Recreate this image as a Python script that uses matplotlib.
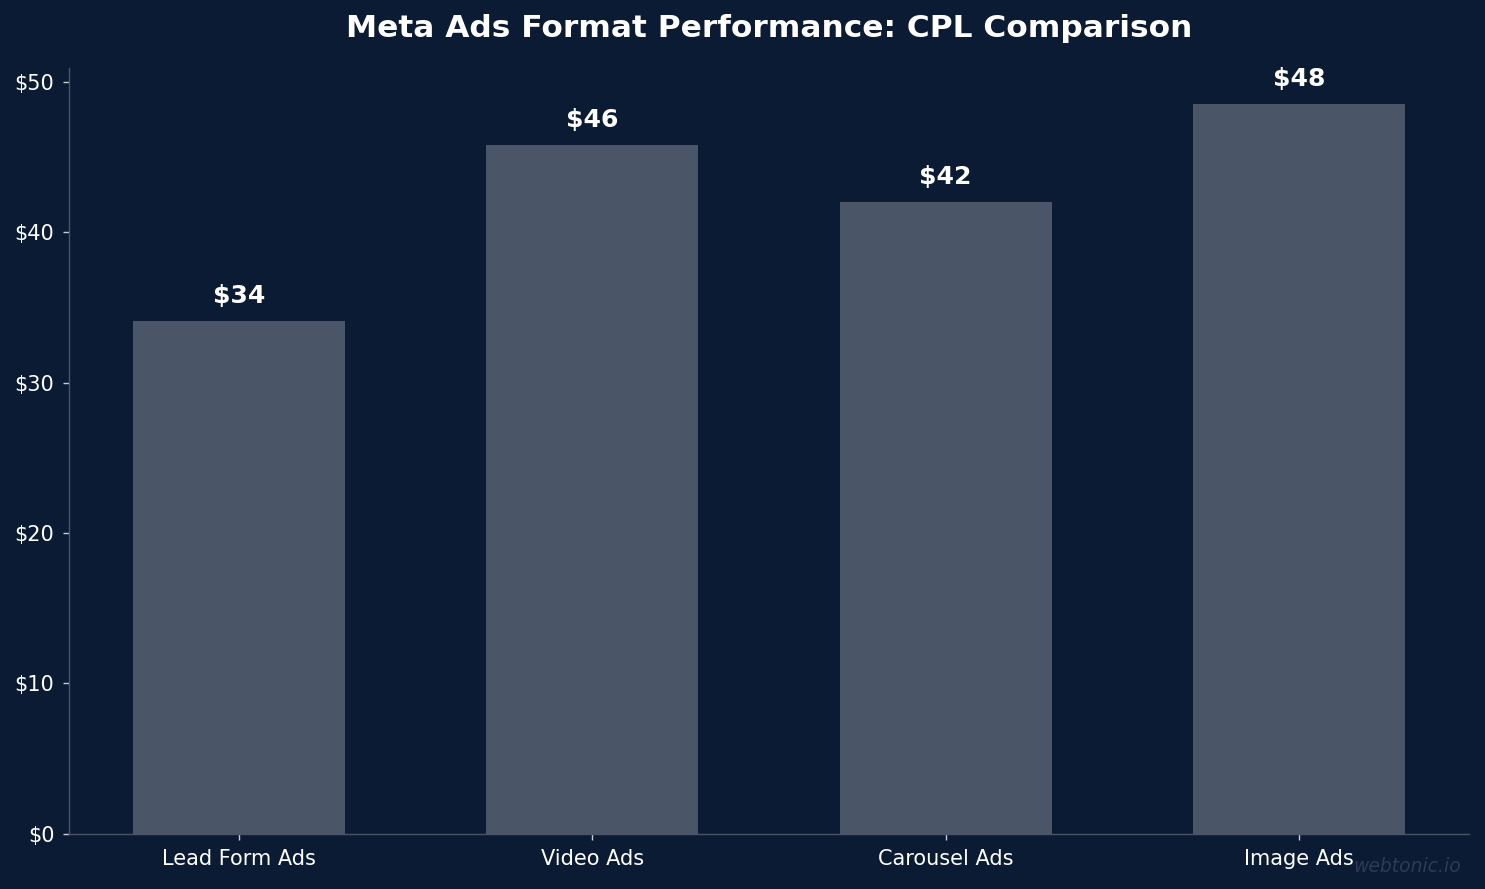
import matplotlib
matplotlib.use('Agg')
import matplotlib.pyplot as plt

plt.rcParams['font.family'] = ['DejaVu Sans']

formats = ['Lead Form Ads', 'Video Ads', 'Carousel Ads', 'Image Ads']
cpl = [34.1, 45.8, 42.0, 48.5]
labels = ['$34', '$46', '$42', '$48']

bg = '#0b1b34'
bar_color = '#4a5568'

fig, ax = plt.subplots(figsize=(11.88, 7.112), dpi=125)
fig.patch.set_facecolor(bg)
ax.set_facecolor(bg)

bars = ax.bar(formats, cpl, width=0.6, color=bar_color)

for b, lab in zip(bars, labels):
    ax.text(b.get_x() + b.get_width() / 2, b.get_height() + 0.9, lab,
            ha='center', va='bottom', color='white', fontsize=14.5, fontweight='bold')

ax.set_title('Meta Ads Format Performance: CPL Comparison', color='white',
             fontsize=18, fontweight='bold', pad=18)
ax.yaxis.set_major_formatter(matplotlib.ticker.FuncFormatter(lambda v, p: f'${v:.0f}'))
ax.tick_params(colors='white', labelsize=12, pad=5)
ax.tick_params(axis='both', color='#c8ccd4')
for s in ['top', 'right']:
    ax.spines[s].set_visible(False)
for s in ['left', 'bottom']:
    ax.spines[s].set_color(bar_color)

fig.text(0.984, 0.015, 'webtonic.io', ha='right', va='bottom', color='#2d3b55',
         fontsize=10.8, style='italic')

plt.subplots_adjust(left=0.0465, right=0.989, bottom=0.062, top=0.9235)
plt.savefig('out.png', facecolor=bg)
